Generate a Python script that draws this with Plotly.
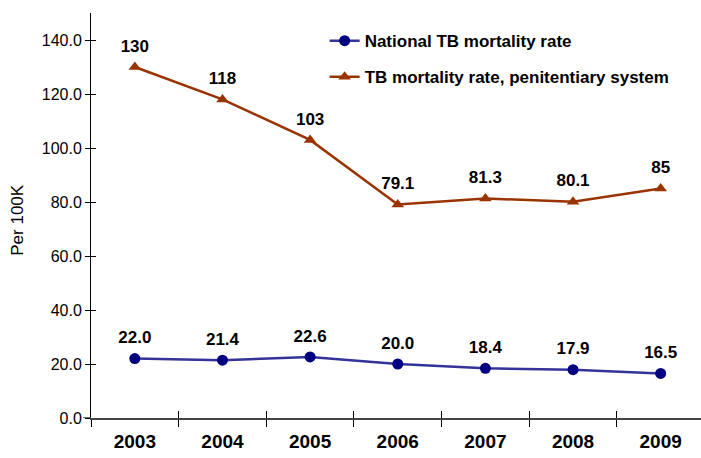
import plotly.graph_objects as go

years = ["2003", "2004", "2005", "2006", "2007", "2008", "2009"]
national = [22.0, 21.4, 22.6, 20.0, 18.4, 17.9, 16.5]
penitentiary = [130, 118, 103, 79.1, 81.3, 80.1, 85]
national_labels = ["22.0", "21.4", "22.6", "20.0", "18.4", "17.9", "16.5"]
penitentiary_labels = ["130", "118", "103", "79.1", "81.3", "80.1", "85"]

FONT = "Arial, Liberation Sans, sans-serif"
BLUE_LINE = "#333399"
BLUE_MARK = "#000080"
BROWN = "#993300"

fig = go.Figure()
fig.add_trace(go.Scatter(
    x=years, y=national, mode="lines+markers", name="National TB mortality rate",
    line=dict(color=BLUE_LINE, width=2.5),
    marker=dict(symbol="circle", size=11, color=BLUE_MARK),
    legendgroup="a",
))
fig.add_trace(go.Scatter(
    x=years, y=penitentiary, mode="lines+markers",
    name="TB mortality rate, penitentiary system",
    line=dict(color=BROWN, width=2.5),
    marker=dict(symbol="triangle-up", size=11, color=BROWN),
    legendgroup="b",
))
# data labels (invisible spacer markers push the text above the points)
for ys, labs in [(national, national_labels), (penitentiary, penitentiary_labels)]:
    fig.add_trace(go.Scatter(
        x=years, y=ys, mode="markers+text", text=[f"<b>{l}</b>" for l in labs],
        textposition="top center",
        textfont=dict(family=FONT, size=17, color="black"),
        marker=dict(size=16, opacity=0), showlegend=False, hoverinfo="skip",
    ))
# invisible trace to carry the overlay axes (inner half of crossing ticks)
fig.add_trace(go.Scatter(
    x=years, y=national, mode="markers", marker=dict(opacity=0),
    xaxis="x2", yaxis="y2", showlegend=False, hoverinfo="skip",
))

fig.add_annotation(xref="paper", yref="paper", x=-0.121, y=0.49, text="Per 100K",
                   textangle=-90, showarrow=False, xanchor="center", yanchor="middle",
                   font=dict(family=FONT, size=17, color="black"))
# small extension of the x-axis line to the left of the y axis
fig.add_shape(type="line", xref="paper", yref="y", x0=-0.013, x1=0, y0=0, y1=0,
              line=dict(color="#444", width=1.5))

xr = [-0.5, 6.46]
yr = [0, 150]
fig.update_layout(
    width=701, height=458,
    margin=dict(l=91, r=0, t=13, b=40),
    paper_bgcolor="white", plot_bgcolor="white",
    font=dict(family=FONT, color="black"),
    showlegend=True,
    legend=dict(x=0.383, y=0.975, xanchor="left", yanchor="top",
                font=dict(family=FONT, size=17, color="black", weight="bold"),
                itemwidth=30, tracegroupgap=11, traceorder="grouped",
                bgcolor="rgba(0,0,0,0)"),
    xaxis=dict(type="category", range=xr, tickson="boundaries", ticks="outside",
               ticklen=7, tickcolor="black", showline=True, linecolor="#444",
               linewidth=1.5, showgrid=False, zeroline=False,
               tickfont=dict(family=FONT, size=19, color="black", weight="bold"),
               ticklabelstandoff=5),
    yaxis=dict(range=yr, dtick=20, tickformat=".1f", ticks="outside", ticklen=5,
               tickcolor="black", showline=True, linecolor="black", linewidth=1,
               showgrid=False, zeroline=False,
               tickfont=dict(family=FONT, size=16, color="black")),
    xaxis2=dict(type="category", range=xr, overlaying="x", tickson="boundaries",
                ticks="inside", ticklen=7, tickcolor="black", showticklabels=False,
                showgrid=False, zeroline=False, showline=False,
                categoryorder="array", categoryarray=years),
    yaxis2=dict(range=yr, dtick=20, overlaying="y", ticks="inside", ticklen=5,
                tickcolor="black", showticklabels=False, showgrid=False,
                zeroline=False, showline=False),
)

fig.write_html("out.html", config={"displayModeBar": False},
               post_script="document.body.style.margin='0';")
